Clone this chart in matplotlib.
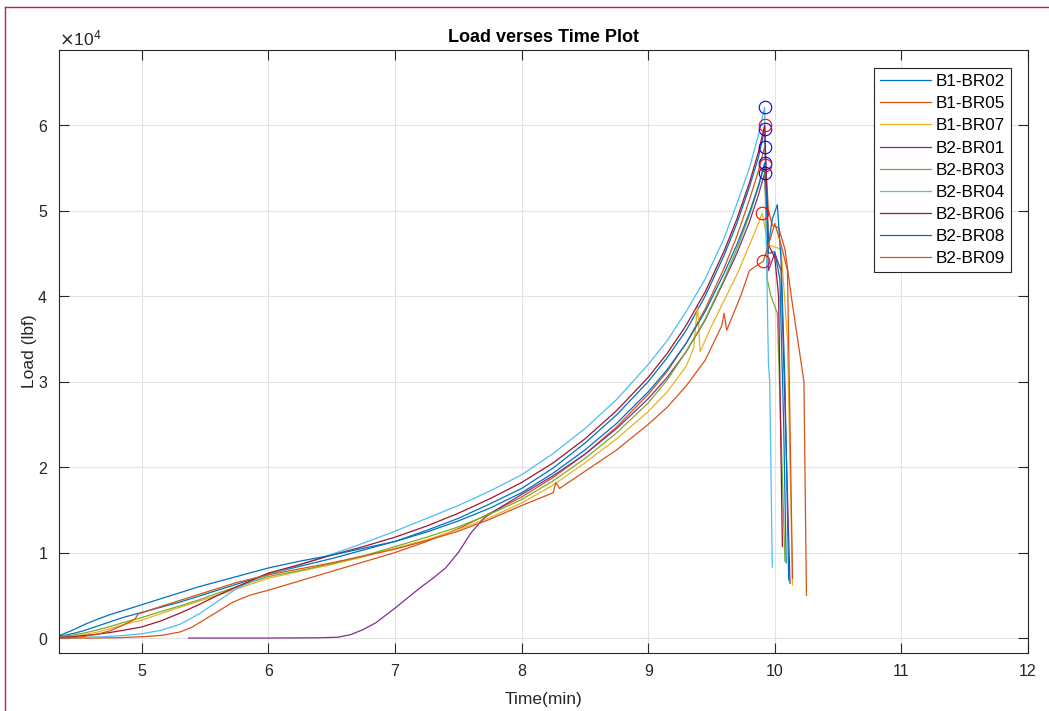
import matplotlib
matplotlib.use("Agg")
import matplotlib.pyplot as plt
from matplotlib.lines import Line2D
from matplotlib.ticker import ScalarFormatter

plt.rcParams["font.family"] = ["Liberation Sans", "DejaVu Sans"]

# specimen order and MATLAB default line colours (7-colour cycle)
names = ["B1-BR02", "B1-BR05", "B1-BR07", "B2-BR01", "B2-BR03",
         "B2-BR04", "B2-BR06", "B2-BR08", "B2-BR09"]
colors = ["#0072BD", "#D95319", "#EDB120", "#7E2F8E", "#77AC30",
          "#4DBEEE", "#A2142F", "#0072BD", "#D95319"]

# common sampling times (min) for the loading branch
t_early = [4.35, 4.45, 4.55, 4.65, 4.75, 4.85, 5.0, 5.15, 5.3, 5.45, 5.6, 5.75]
t_mid = [6.0, 6.25, 6.5, 6.75, 7.0, 7.25, 7.5, 7.75, 8.0, 8.25, 8.5, 8.75,
         9.0, 9.15, 9.3, 9.45, 9.6, 9.7, 9.8, 9.87, 9.92]

# loads (lbf)
t_b1_br02 = t_early + t_mid + [9.95, 10.0, 10.04, 10.07, 10.09]
p_b1_br02 = [200, 500, 900, 1400, 1900, 2400, 3000, 3600, 4200, 4900, 5600, 6300,
             7500, 8400, 9300, 10300, 11300, 12600, 14000, 15700, 17500, 19900, 22800, 26100,
             30000, 32800, 36000, 40000, 44800, 48500, 52800, 56200, 59500,
             45000, 45200, 42000, 25000, 8800]

t_b1_br05 = [4.35, 4.6, 4.8, 5.0, 5.15, 5.3, 5.4, 5.5, 5.6, 5.72, 5.85] + t_mid + \
            [9.95, 9.98, 10.03, 10.08, 10.13, 10.2, 10.23, 10.25]
p_b1_br05 = [0, 0, 30, 150, 300, 700, 1300, 2200, 3100, 4200, 5000,
             5600, 6700, 7800, 8900, 10000, 11300, 12800, 14600, 16500, 18800, 21500, 24700,
             28500, 31200, 34500, 38500, 43300, 47000, 51300, 54600, 57500,
             50000, 48300, 48000, 45500, 40000, 33000, 30000, 5000]

t_b1_br07 = t_early + [6.0, 6.25, 6.5, 6.75, 7.0, 7.25, 7.5, 7.75, 8.0, 8.25, 8.5, 8.75,
                       9.0, 9.15, 9.3, 9.36, 9.39, 9.41, 9.5, 9.6, 9.7, 9.8, 9.87, 9.90,
                       9.95, 10.05, 10.1, 10.14]
p_b1_br07 = [100, 200, 400, 700, 1100, 1550, 2100, 2850, 3600, 4300, 5000, 5750,
             7000, 7800, 8600, 9500, 10500, 11500, 12700, 14100, 15800, 17900, 20500, 23300,
             26500, 28800, 31800, 34000, 39000, 33500, 36500, 39500, 42500, 46000, 48500, 49700,
             46000, 45500, 35000, 6200]

t_b2_br01 = [5.37, 6.0, 6.4, 6.55, 6.65, 6.75, 6.85, 7.0, 7.1, 7.2, 7.3, 7.4, 7.5, 7.6, 7.7,
             7.8, 8.0, 8.25, 8.5, 8.75, 9.0, 9.15, 9.3, 9.45, 9.6, 9.7, 9.8, 9.87, 9.92,
             9.95, 10.0, 10.05, 10.12]
p_b2_br01 = [0, 0, 30, 100, 400, 1000, 1800, 3500, 4700, 5900, 7000, 8200, 10000, 12300, 14000,
             15000, 16800, 19000, 21500, 24500, 28000, 30500, 33500, 37200, 41800, 45000, 48700,
             51800, 54400, 43000, 45000, 43000, 6400]

t_b2_br03 = t_early + t_mid + [9.94, 9.97, 10.02, 10.08]
p_b2_br03 = [200, 350, 600, 950, 1350, 1800, 2400, 3100, 3750, 4450, 5250, 6000,
             7200, 7900, 8700, 9600, 10700, 11800, 13000, 14500, 16200, 18400, 21000, 24000,
             27500, 30200, 33500, 37300, 42000, 45500, 49500, 52700, 55400,
             42000, 40000, 38000, 9000]

t_b2_br04 = [4.35, 4.45, 4.55, 4.65, 4.75, 4.85, 5.0, 5.15, 5.3, 5.45, 5.6, 5.75, 5.9] + t_mid + \
            [9.94, 9.95, 9.96, 9.98]
p_b2_br04 = [0, 30, 80, 130, 200, 300, 500, 900, 1600, 2800, 4300, 5800, 6800,
             7400, 8600, 9800, 11100, 12500, 14000, 15500, 17200, 19100, 21600, 24500, 27900,
             32000, 34800, 38200, 42000, 46800, 50800, 55000, 58800, 62100,
             40000, 32000, 30000, 8300]

t_b2_br06 = t_early + t_mid + [9.95, 10.0, 10.03, 10.06]
p_b2_br06 = [100, 150, 300, 450, 650, 900, 1300, 2000, 2900, 3900, 5000, 6000,
             7600, 8600, 9700, 10700, 11800, 13100, 14600, 16300, 18200, 20500, 23300, 26600,
             30500, 33300, 36600, 40500, 45300, 49000, 53300, 56800, 60000,
             46000, 44500, 40000, 10700]

t_b2_br08 = t_early + t_mid + [9.95, 9.98, 10.02, 10.05, 10.08, 10.11]
p_b2_br08 = [300, 900, 1600, 2200, 2750, 3200, 3900, 4600, 5300, 6000, 6600, 7200,
             8200, 9000, 9700, 10500, 11300, 12400, 13700, 15200, 17000, 19300, 22000, 25100,
             28800, 31400, 34500, 38200, 42700, 46000, 49800, 52900, 55600,
             46000, 49000, 50700, 44000, 30000, 6800]

t_b2_br09 = [4.35, 4.45, 4.55, 4.65, 4.75, 4.85, 4.92, 4.95, 4.97, 5.0, 5.15, 5.3, 5.45, 5.6, 5.75,
             6.0, 6.25, 6.5, 6.75, 7.0, 7.25, 7.5, 7.75, 8.0, 8.25, 8.27, 8.3, 8.5, 8.75,
             9.0, 9.15, 9.3, 9.45, 9.58, 9.6, 9.62, 9.73, 9.8, 9.91,
             9.95, 10.0, 10.05, 10.1, 10.14]
p_b2_br09 = [0, 50, 200, 450, 850, 1500, 2000, 2300, 2800, 2950, 3700, 4400, 5100, 5800, 6500,
             7400, 8100, 8800, 9600, 10400, 11400, 12500, 13900, 15500, 17000, 18200, 17500, 19500, 22000,
             25000, 27000, 29500, 32500, 36500, 38000, 36000, 40000, 43000, 44100,
             46000, 48500, 46000, 43000, 7000]

times = [t_b1_br02, t_b1_br05, t_b1_br07, t_b2_br01, t_b2_br03,
         t_b2_br04, t_b2_br06, t_b2_br08, t_b2_br09]
loads = [p_b1_br02, p_b1_br05, p_b1_br07, p_b2_br01, p_b2_br03,
         p_b2_br04, p_b2_br06, p_b2_br08, p_b2_br09]

# peak markers, blue and red circles
peak_t_blue = [9.92, 9.92, 9.92, 9.92, 9.92]
peak_p_blue = [62100, 59500, 57500, 55600, 54400]
peak_t_red = [9.92, 9.92, 9.90, 9.91]
peak_p_red = [60000, 55400, 49700, 44100]

fig = plt.figure(figsize=(10.49, 7.11), dpi=100)
ax = fig.add_axes([59 / 1049, 58 / 711, (1028 - 59) / 1049, (653 - 50) / 711])

for t, p, c, n in zip(times, loads, colors, names):
    ax.plot(t, p, color=c, lw=0.9, label=n)

ax.plot(peak_t_blue, peak_p_blue, "o", ms=9, mfc="none", mec="#0000FF", mew=0.8)
ax.plot(peak_t_red, peak_p_red, "o", ms=9, mfc="none", mec="#FF0000", mew=0.8)

ax.set_xlim(4.346, 12)
ax.set_ylim(-1750, 68800)
ax.set_xticks(range(5, 13))
ax.set_yticks(range(0, 60001, 10000))

fmt = ScalarFormatter(useMathText=True)
fmt.set_powerlimits((0, 0))
ax.yaxis.set_major_formatter(fmt)
ax.yaxis.get_offset_text().set_fontsize(12.5)
ax.yaxis.get_offset_text().set_color("#262626")

ax.grid(True, color="#E3E3E3", lw=0.8)
ax.set_axisbelow(True)
for s in ax.spines.values():
    s.set_color("#262626")
    s.set_linewidth(0.8)
ax.tick_params(direction="in", length=7, width=0.8, colors="#262626",
               labelsize=11.5, top=True, right=True, pad=8)

ax.set_title("Load verses Time Plot", fontsize=13, fontweight="bold", color="#000000", pad=6)
ax.set_xlabel("Time(min)", fontsize=12.5, color="#262626", labelpad=9)
ax.set_ylabel("Load (lbf)", fontsize=12.5, color="#262626", labelpad=0)

leg = ax.legend(loc="upper right", bbox_to_anchor=(0.9825, 0.97), fontsize=12.3,
                handlelength=3.0, handletextpad=0.25, labelspacing=0.42,
                borderpad=0.35, fancybox=False, framealpha=1, borderaxespad=0)
leg.get_frame().set_edgecolor("#262626")
leg.get_frame().set_linewidth(0.8)

# thin red frame along the left and top of the image
fig.add_artist(Line2D([5 / 1049, 5 / 1049], [0, 1 - 7 / 711], color="#C41E3A", lw=1.0))
fig.add_artist(Line2D([5 / 1049, 1], [1 - 7 / 711, 1 - 7 / 711], color="#C41E3A", lw=1.0))

fig.savefig("out.png", dpi=100)
